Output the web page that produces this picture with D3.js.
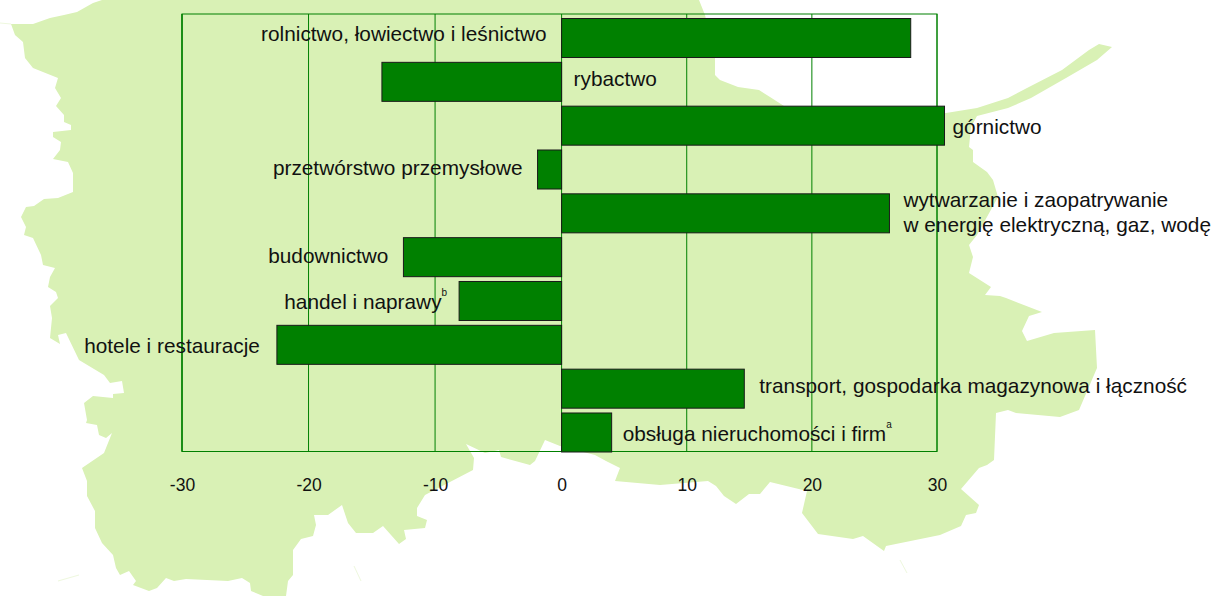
<!DOCTYPE html>
<html>
<head>
<meta charset="utf-8">
<style>
html, body { margin: 0; padding: 0; background: #fff; }
svg { display: block; }
text { font-family: "Liberation Sans", Arial, sans-serif; fill: #111; }
.cat { font-size: 20.8px; }
.sup { font-size: 10px; }
.tick text { font-size: 17.5px; }
</style>
</head>
<body>
<svg width="1212" height="596"></svg>
<script src="https://cdn.jsdelivr.net/npm/d3@7"></script>
<script>
var categories = [
  ["rolnictwo, łowiectwo i leśnictwo"],
  ["rybactwo"],
  ["górnictwo"],
  ["przetwórstwo przemysłowe"],
  ["wytwarzanie i zaopatrywanie", "w energię elektryczną, gaz, wodę"],
  ["budownictwo"],
  ["handel i naprawy"],
  ["hotele i restauracje"],
  ["transport, gospodarka magazynowa i łączność"],
  ["obsługa nieruchomości i firm"]
];
var values = [27.9, -14.2, 30.6, -1.9, 26.2, -12.5, -8.1, -22.5, 14.6, 4.0];
var footnotes = ["", "", "", "", "", "", "b", "", "", "a"];
var xTicks = [-30, -20, -10, 0, 10, 20, 30];

// label placement: which side of the bar, and small hand nudges
var labelSide = [-1, 1, 1, -1, 1, -1, -1, -1, 1, 1];
var labelDx = [0, -1, -5, 0, 1, 0, 3, -2, 2, -2];
var labelDy = [-4, -3, 1, -2, 6, -1, 1, 1, -3, 2];

// background map of the region
var mapOutline = [
  [102,0],[93,3],[77,12],[64,15],[50,18],[33,24],[11,24],[15,35],[23,42],[25,58],[33,68],[58,78],[55,88],[61,98],
  [56,106],[64,115],[64,122],[71,125],[71,130],[53,132],[53,137],[61,142],[60,150],[53,159],[68,162],[73,173],
  [73,192],[58,198],[44,199],[34,206],[26,207],[21,217],[26,227],[24,235],[33,238],[41,255],[43,265],[55,268],
  [50,277],[48,287],[56,292],[58,298],[50,306],[52,318],[50,338],[60,344],[58,335],[66,333],[79,360],[104,375],
  [110,383],[122,381],[124,393],[113,394],[113,398],[93,396],[84,403],[87,420],[86,423],[97,425],[99,435],
  [106,438],[112,433],[104,453],[82,468],[87,481],[87,496],[95,511],[95,528],[102,543],[113,555],[116,568],
  [120,575],[129,571],[136,581],[133,585],[149,591],[157,588],[166,578],[174,581],[186,579],[228,581],[242,578],
  [250,583],[251,591],[263,596],[286,596],[288,581],[293,575],[293,550],[301,539],[313,536],[316,525],[314,515],
  [328,515],[342,505],[348,523],[356,533],[373,533],[383,526],[399,544],[406,539],[404,530],[425,528],[427,520],
  [417,516],[417,508],[425,495],[473,470],[474,458],[466,444],[485,453],[499,450],[501,457],[530,465],[535,461],
  [545,440],[560,446],[595,455],[606,461],[620,468],[615,481],[660,485],[708,481],[716,486],[724,496],[736,504],
  [749,494],[760,494],[770,482],[807,491],[802,513],[818,534],[853,539],[863,536],[884,551],[886,546],[940,535],
  [961,526],[966,515],[976,513],[979,505],[961,489],[979,468],[987,465],[994,460],[996,413],[1008,410],[1016,413],
  [1060,417],[1079,410],[1097,368],[1095,330],[1054,333],[1027,341],[1022,331],[1029,316],[1042,312],[1006,298],
  [1000,296],[985,295],[991,287],[969,273],[973,257],[969,245],[977,235],[998,197],[993,180],[987,172],[973,162],
  [973,150],[969,147],[971,127],[977,116],[1008,108],[1031,98],[1066,78],[1097,60],[1112,47],[1099,44],[1089,50],
  [1062,70],[1027,88],[1008,98],[977,108],[946,113],[784,106],[770,97],[759,90],[738,87],[720,80],[715,75],
  [715,57],[705,15],[699,0]
];
// hairline slivers the map leaves at its edges
var mapSlivers = [
  [[0,23],[11,24]],
  [[58,581],[79,575]],
  [[354,566],[361,581]],
  [[900,560],[907,573]]
];

var svg = d3.select("svg"),
    plot = {left: 182, zero: 561.6, right: 937, top: 14, bottom: 451.5};

svg.append("path")
    .attr("d", d3.line()(mapOutline) + "Z")
    .attr("fill", "#d9f1b5");

svg.selectAll(".sliver")
    .data(mapSlivers)
  .enter().append("path")
    .attr("class", "sliver")
    .attr("d", d3.line())
    .attr("fill", "none")
    .attr("stroke", "#eef8de");

// the source chart's zero sits slightly right of centre
var x = d3.scaleLinear().domain([-30, 0, 30]).range([plot.left, plot.zero, plot.right]);
var y = d3.scaleBand().domain(d3.range(values.length)).range([18.5, 452]).paddingInner(0.11);

svg.append("g").selectAll("line")
    .data(xTicks)
  .enter().append("line")
    .attr("x1", function(d) { return x(d); })
    .attr("x2", function(d) { return x(d); })
    .attr("y1", plot.top)
    .attr("y2", plot.bottom)
    .attr("stroke", "#008000")
    .attr("stroke-width", function(d) { return d === -30 ? 1.5 : 1; });

svg.append("rect")
    .attr("x", plot.left)
    .attr("y", plot.top)
    .attr("width", plot.right - plot.left)
    .attr("height", plot.bottom - plot.top)
    .attr("fill", "none")
    .attr("stroke", "#008000");

var axis = svg.append("g")
    .attr("class", "tick")
    .attr("transform", "translate(0," + plot.bottom + ")")
    .call(d3.axisBottom(x).tickValues(xTicks).tickSize(0).tickPadding(27).tickFormat(String));
axis.select(".domain").remove();
axis.selectAll("text").attr("fill", "#111").style("font-family", null);

svg.selectAll(".bar")
    .data(values)
  .enter().append("rect")
    .attr("class", "bar")
    .attr("x", function(d) { return x(Math.min(0, d)); })
    .attr("y", function(d, i) { return y(i); })
    .attr("width", function(d) { return Math.abs(x(d) - x(0)); })
    .attr("height", y.bandwidth())
    .attr("fill", "#008000")
    .attr("stroke", "#1a1a1a")
    .attr("stroke-width", 1);

var labels = svg.selectAll(".cat")
    .data(categories)
  .enter().append("text")
    .attr("class", "cat")
    .attr("text-anchor", function(d, i) { return labelSide[i] < 0 ? "end" : "start"; })
    .attr("transform", function(d, i) {
      // rolnictwo and rybactwo sit across the axis from their bars
      var v = values[i],
          edge = labelSide[i] < 0 ? x(Math.min(0, v)) - 15 : x(Math.max(0, v)) + 13;
      return "translate(" + (edge + labelDx[i]) + "," + (y(i) + y.bandwidth() / 2 + 7 + labelDy[i]) + ")";
    });

labels.each(function(lines, i) {
  var t = d3.select(this),
      first = lines.length > 1 ? -19 : 0;
  lines.forEach(function(line, k) {
    t.append("tspan")
        .attr("x", 0)
        .attr("y", first + k * 25)
        .text(line);
  });
  if (footnotes[i]) {
    t.append("tspan")
        .attr("class", "sup")
        .attr("dy", -13)
        .text(footnotes[i]);
  }
});
</script>
</body>
</html>
